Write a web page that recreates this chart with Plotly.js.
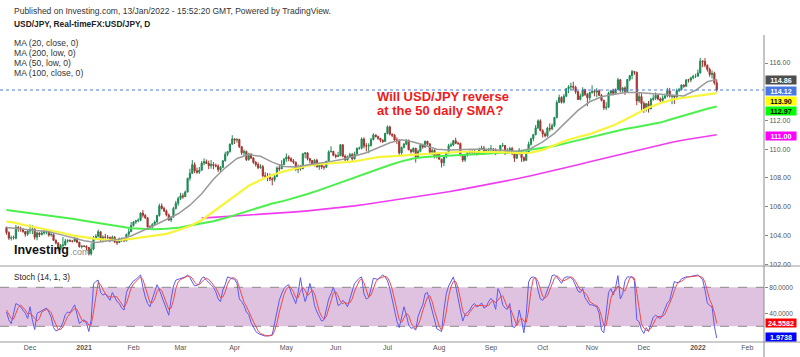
<!DOCTYPE html>
<html>
<head>
<meta charset="utf-8">
<script src="https://cdn.plot.ly/plotly-3.0.1.min.js"></script>
<style>html,body{margin:0;padding:0;background:#fff;}#chart{width:800px;height:357px;}</style>
</head>
<body>
<div id="chart"></div>
<script>
// ---------- DATA ----------
// Daily candles, trading days 2020-11-17 .. 2022-01-13
const open = [
 104.55,104.19,103.81,103.82,103.80,104.55,104.45,104.45,104.26,104.08,
 104.30,104.35,104.43,103.87,104.17,104.05,104.16,104.22,104.26,104.02,104.06,103.65,103.46,103.08,103.30,103.33,103.60,103.65,103.60,103.58,103.80,103.52,103.20,
 103.25,103.24,103.15,102.71,103.04,103.81,103.94,104.25,103.77,103.88,103.87,103.85,103.68,103.87,103.54,103.49,103.78,103.76,103.62,104.08,104.25,
 104.68,104.93,105.01,105.05,105.55,105.39,105.22,104.58,104.58,104.75,104.93,105.38,106.05,105.87,105.69,105.42,105.07,105.27,105.87,106.23,
 106.57,106.76,106.69,107.01,107.98,108.32,108.92,108.49,108.40,108.53,109.03,109.13,109.00,108.85,108.94,108.87,108.82,108.57,108.74,109.19,109.64,109.83,110.36,
 110.72,110.63,110.68,110.18,109.75,109.84,109.27,109.67,109.38,109.07,108.93,108.71,108.78,108.15,108.11,108.08,107.93,107.88,108.10,108.69,108.63,108.92,
 109.31,109.45,109.34,109.19,109.09,108.58,108.80,108.64,109.68,109.74,109.35,109.21,108.89,109.22,108.77,108.94,108.75,108.75,109.15,109.82,109.85,
 109.57,109.49,109.55,110.31,109.51,109.25,109.48,109.62,109.32,109.66,110.05,110.06,110.71,110.23,110.21,110.26,110.66,110.99,110.87,110.76,110.62,110.53,
 111.10,111.55,111.05,110.97,110.63,110.63,109.74,110.13,110.35,110.62,109.96,109.82,110.07,109.46,109.85,110.28,110.15,110.55,110.37,109.78,109.92,109.46,
 109.72,109.30,109.05,109.48,109.77,110.24,110.29,110.59,110.41,110.40,109.59,109.24,109.62,109.77,109.76,109.78,109.72,109.67,110.01,110.08,109.85,109.92,
 110.02,110.02,109.93,109.71,109.84,110.26,110.26,109.71,109.92,110.04,109.69,109.37,109.72,109.93,109.40,109.22,109.79,110.34,110.73,111.00,111.49,111.97,
 111.29,111.05,110.93,111.46,111.41,111.64,112.21,113.25,113.60,113.27,113.69,114.21,114.34,114.37,114.31,114.00,113.46,113.70,114.14,113.81,113.58,
 113.95,114.03,113.97,114.06,113.75,113.40,112.88,112.92,113.91,114.07,113.88,114.15,114.83,114.09,114.26,114.00,114.85,115.12,115.40,115.36,113.36,113.66,
 113.18,112.80,113.17,112.80,113.46,113.54,113.75,113.49,113.39,113.57,113.71,114.06,113.69,113.70,113.63,114.08,114.15,114.47,114.38,114.83,114.81,114.97,115.08,
 115.08,115.30,116.14,116.11,115.84,115.56,115.20,115.28,114.63
];
const high = [
 104.60,104.28,103.98,103.98,104.72,104.65,104.60,104.48,104.30,104.42,
 104.75,104.70,104.50,104.25,104.20,104.30,104.38,104.40,104.30,104.20,104.12,103.72,103.52,103.40,103.88,103.76,103.72,103.72,103.66,103.88,103.82,103.55,103.30,
 103.30,103.30,103.19,103.44,103.95,104.08,104.40,104.26,104.00,104.11,104.02,103.92,104.00,103.95,103.66,103.84,103.85,103.80,104.10,104.48,104.94,
 105.00,105.08,105.18,105.60,105.76,105.48,105.26,104.70,104.85,105.03,105.43,106.20,106.22,105.98,105.80,105.52,105.32,105.98,106.40,106.69,
 106.96,106.93,107.12,108.00,108.64,109.24,109.08,108.72,108.76,109.18,109.36,109.28,109.20,109.24,109.10,109.00,108.95,108.82,109.25,109.82,109.86,110.38,110.97,
 110.73,110.75,110.72,110.20,109.98,109.90,109.75,109.70,109.45,109.18,109.08,108.95,108.90,108.40,108.34,108.30,108.04,108.28,108.80,108.94,109.23,109.38,
 109.70,109.57,109.43,109.31,109.13,108.94,108.90,109.73,109.79,109.80,109.35,109.25,109.32,109.34,109.05,108.96,108.86,109.19,109.92,110.20,109.88,
 109.68,109.82,110.33,110.33,109.63,109.55,109.75,109.74,109.82,110.13,110.18,110.82,110.82,110.42,110.41,110.79,111.11,111.02,110.94,110.78,110.70,111.14,
 111.66,111.64,111.09,111.06,110.82,110.68,110.17,110.44,110.71,110.66,110.00,110.11,110.07,109.98,110.40,110.39,110.59,110.58,110.40,110.04,110.00,109.74,
 109.76,109.34,109.52,109.80,110.37,110.45,110.64,110.80,110.52,110.45,109.62,109.67,109.83,109.92,110.00,109.94,109.87,110.11,110.24,110.23,110.04,110.07,
 110.28,110.07,110.06,109.88,110.28,110.44,110.26,110.06,110.16,110.16,109.70,109.83,110.07,109.94,109.50,109.85,110.52,110.80,111.07,111.68,112.07,112.08,
 111.39,111.18,111.56,111.80,111.78,112.25,113.41,113.80,113.68,113.84,114.25,114.45,114.63,114.70,114.42,114.05,113.87,114.31,114.21,113.91,114.00,
 114.44,114.15,114.25,114.17,113.84,113.45,113.27,114.00,114.13,114.21,114.23,114.97,114.89,114.33,114.38,114.88,115.16,115.52,115.43,115.39,113.90,113.89,
 113.33,113.22,113.36,113.58,113.80,113.95,113.80,113.60,113.74,113.86,114.27,114.26,113.80,113.77,114.22,114.27,114.51,114.50,114.85,114.90,115.04,115.19,115.25,
 115.55,116.35,116.18,116.34,115.90,115.68,115.49,115.39,114.86
];
const low = [
 104.05,103.68,103.64,103.70,103.72,104.24,104.25,104.18,103.90,103.96,
 104.10,104.08,103.70,103.65,103.88,104.00,104.05,104.08,103.90,103.92,103.60,103.38,102.88,102.98,103.12,103.28,103.48,103.54,103.50,103.55,103.45,103.15,103.08,
 103.18,102.96,102.60,102.59,102.96,103.67,103.85,103.58,103.52,103.65,103.64,103.52,103.58,103.46,103.33,103.46,103.54,103.52,103.57,103.95,104.22,
 104.60,104.80,104.90,104.98,105.24,105.14,104.55,104.40,104.52,104.68,104.88,105.30,105.80,105.62,105.32,105.00,104.93,105.23,105.80,106.05,
 106.45,106.54,106.66,107.00,107.80,108.28,108.34,108.28,108.28,108.50,108.88,108.98,108.61,108.64,108.60,108.73,108.40,108.41,108.68,109.14,109.51,109.76,110.28,
 110.36,110.45,110.08,109.60,109.53,109.18,109.20,109.32,108.98,108.78,108.61,108.64,108.04,107.98,107.76,107.78,107.48,107.74,108.05,108.46,108.61,108.91,
 109.12,109.16,109.11,108.97,108.48,108.34,108.50,108.60,109.37,109.22,109.00,108.85,108.80,108.72,108.56,108.62,108.57,108.69,109.12,109.77,109.50,
 109.36,109.46,109.51,109.43,109.19,109.19,109.42,109.19,109.29,109.64,109.96,109.98,110.06,109.84,109.72,110.18,110.62,110.82,110.65,110.48,110.43,110.51,
 111.03,110.95,110.84,110.55,110.35,109.53,109.53,110.05,110.29,109.92,109.69,109.77,109.07,109.40,109.79,110.03,110.09,110.26,109.70,109.59,109.36,109.35,
 109.26,108.72,108.81,109.37,109.67,110.14,110.22,110.35,110.29,109.50,109.11,109.12,109.48,109.60,109.60,109.60,109.56,109.63,109.94,109.61,109.78,109.79,
 109.81,109.86,109.58,109.71,109.78,110.15,109.59,109.70,109.90,109.58,109.11,109.32,109.60,109.11,109.12,109.18,109.78,110.24,110.54,110.97,111.40,111.24,
 110.81,110.82,110.85,111.23,111.32,111.54,112.13,113.25,113.18,113.18,113.62,113.89,114.14,114.09,113.85,113.42,113.40,113.66,113.70,112.99,113.39,
 113.86,113.68,113.61,113.70,113.32,112.73,112.73,112.86,113.78,113.75,113.79,114.12,113.95,113.95,113.78,113.97,114.73,114.86,115.17,113.06,113.23,112.73,
 112.53,112.62,112.55,112.79,113.36,113.43,113.40,113.26,113.29,113.49,113.61,113.59,113.13,113.15,113.56,113.98,114.08,114.27,114.34,114.64,114.66,114.87,114.95,
 115.06,115.28,115.71,115.70,115.40,115.04,114.92,114.49,114.00
];
const close = [
 104.19,103.81,103.82,103.86,104.55,104.45,104.45,104.26,104.08,104.30,
 104.35,104.43,103.87,104.17,104.05,104.16,104.22,104.26,104.02,104.06,103.65,103.46,103.08,103.30,103.33,103.60,103.65,103.60,103.58,103.80,103.52,103.20,103.25,
 103.24,103.15,102.71,103.04,103.81,103.94,104.25,103.77,103.88,103.87,103.85,103.68,103.87,103.54,103.49,103.78,103.76,103.62,104.08,104.25,104.68,
 104.93,105.01,105.05,105.55,105.39,105.22,104.58,104.58,104.75,104.93,105.38,106.05,105.87,105.69,105.42,105.07,105.27,105.87,106.23,106.57,
 106.76,106.69,107.01,107.98,108.32,108.92,108.49,108.40,108.53,109.03,109.13,109.00,108.85,108.94,108.87,108.82,108.57,108.74,109.19,109.64,109.83,110.36,110.72,
 110.63,110.68,110.18,109.75,109.84,109.27,109.67,109.38,109.07,108.93,108.71,108.78,108.15,108.11,108.08,107.93,107.88,108.10,108.69,108.63,108.92,109.31,
 109.45,109.34,109.19,109.09,108.58,108.80,108.64,109.68,109.74,109.35,109.21,108.89,109.22,108.77,108.94,108.75,108.75,109.15,109.82,109.85,109.57,
 109.49,109.55,110.31,109.51,109.25,109.48,109.62,109.32,109.66,110.05,110.06,110.71,110.23,110.21,110.26,110.66,110.99,110.87,110.76,110.62,110.53,111.10,
 111.55,111.05,110.97,110.63,110.63,109.74,110.13,110.35,110.62,109.96,109.82,110.07,109.46,109.85,110.28,110.15,110.55,110.37,109.78,109.92,109.46,109.72,
 109.30,109.05,109.48,109.77,110.24,110.29,110.59,110.41,110.40,109.59,109.24,109.62,109.77,109.76,109.78,109.72,109.67,110.01,110.08,109.85,109.92,110.02,
 110.02,109.93,109.71,109.84,110.26,110.26,109.71,109.92,110.04,109.69,109.37,109.72,109.93,109.40,109.22,109.79,110.34,110.73,111.00,111.49,111.97,111.29,
 111.05,110.93,111.46,111.41,111.64,112.21,113.25,113.60,113.27,113.69,114.21,114.34,114.37,114.31,114.00,113.46,113.70,114.14,113.81,113.58,113.95,
 114.03,113.97,114.06,113.75,113.40,112.88,112.92,113.91,114.07,113.88,114.15,114.83,114.09,114.26,114.00,114.85,115.12,115.40,115.36,113.36,113.66,113.18,
 112.80,113.17,112.80,113.46,113.54,113.75,113.49,113.39,113.57,113.71,114.06,113.69,113.70,113.63,114.08,114.15,114.47,114.38,114.83,114.81,114.97,115.08,115.08,
 115.30,116.14,116.11,115.84,115.56,115.20,115.28,114.63,114.12
];

// Moving averages, read weekly (2020-11-17, every Friday 2020-11-20..2022-01-07, 2022-01-13)
const ma20close = [104.55,
 104.50,104.45,104.35,104.25,104.05,103.85,103.62,103.50,103.60,103.72,
 103.95,104.30,104.70,105.10,105.50,106.10,106.90,107.90,108.70,109.35,
 109.62,109.50,109.10,108.80,108.75,108.90,109.00,109.15,109.30,109.55,
 109.75,110.10,110.45,110.65,110.50,110.25,110.00,109.95,110.00,110.00,
 110.00,109.95,109.92,109.85,110.05,110.50,111.10,111.90,112.70,113.30,
 113.65,113.80,113.95,113.95,113.90,113.82,113.75,113.70,114.10,114.70,
 114.86];
const ma50low = [104.95,
 104.90,104.70,104.55,104.40,104.20,104.00,103.85,103.75,103.68,103.68,
 103.75,103.85,103.95,104.10,104.35,104.65,105.05,105.65,106.25,106.85,
 107.45,107.85,108.20,108.45,108.65,108.85,108.95,109.00,109.05,109.15,
 109.30,109.45,109.50,109.55,109.62,109.70,109.75,109.80,109.82,109.82,
 109.82,109.82,109.78,109.72,109.75,109.95,110.30,110.60,110.85,111.05,
 111.35,111.65,112.05,112.45,112.90,113.20,113.45,113.58,113.70,113.82,
 113.90];
const ma100close = [105.76,
 105.70,105.60,105.50,105.40,105.28,105.15,105.02,104.90,104.75,104.62,
 104.50,104.45,104.42,104.45,104.52,104.68,104.82,104.98,105.20,105.45,
 105.72,106.00,106.22,106.40,106.62,106.88,107.15,107.45,107.72,108.00,
 108.32,108.62,108.90,109.15,109.35,109.46,109.52,109.56,109.60,109.63,
 109.66,109.70,109.76,109.83,109.95,110.08,110.22,110.42,110.62,110.80,
 110.97,111.18,111.40,111.55,111.72,111.85,112.10,112.35,112.60,112.82,
 112.97];
const ma200low = [null,
 null,null,null,null,null,null,null,null,null,null,
 null,null,null,null,null,null,105.20,105.25,105.30,105.35,
 105.40,105.45,105.50,105.56,105.63,105.70,105.78,105.86,105.95,106.05,
 106.16,106.28,106.40,106.52,106.65,106.78,106.90,107.04,107.18,107.33,
 107.48,107.64,107.80,107.97,108.15,108.33,108.52,108.72,108.92,109.12,
 109.32,109.52,109.72,109.92,110.12,110.30,110.48,110.64,110.78,110.90,
 111.00];

// Stochastic (14,1,3): %K (blue) and %D (red), one value per trading day
const stochK = [
 42,30,24,40,55,53,50,45,40,32, 50,30,15,40,42,44,46,48,42,34,
 18,13,14,18,26,38,42,41,47,53, 38,24,28,30,25,12,30,85,89,91,
 72,68,70,64,60,72,66,58,55,48, 45,72,80,86,90,92,96,99,80,65,
 55,50,62,74,84,76,66,55,45,37, 62,82,91,92,94,95,96,99,95,88,
 82,83,86,94,96,91,88,84,80,73, 62,58,76,84,96,95,94,92,86,62,
 58,52,42,38,26,18,12,9,7,6, 5,5,6,7,25,42,60,70,78,82,
 84,72,64,55,72,95,72,58,70,86, 72,52,42,36,28,30,48,62,70,80,
 68,52,54,60,56,50,62,74,86,90, 94,96,70,62,64,78,94,93,92,96,
 99,96,90,78,62,46,28,18,32,50, 38,22,17,18,14,35,45,53,70,72,
 58,45,30,16,14,12,45,70,82,90, 96,82,60,45,28,38,42,45,52,55,
 50,52,56,48,50,58,63,58,46,78, 70,53,48,46,55,20,18,24,45,30,
 10,38,88,95,96,94,76,62,60,66, 76,85,98,99,96,90,86,94,96,96,
 95,91,82,74,72,78,64,58,53,53, 52,50,40,14,10,40,72,78,68,80,
 98,62,70,90,96,96,96,90,30,27, 15,9,18,12,22,34,37,35,32,38,
 48,56,60,76,89,87,88,93,95,96, 96,97,97,98,99,95,92,76,56,52,
 50,20,1.9738
];
const stochD = [
 45,38,32,31,40,49,53,49,45,39, 40,37,32,28,32,42,44,46,45,41,
 31,22,15,15,19,27,35,40,43,47, 46,38,30,27,28,22,22,42,68,88,
 84,77,70,67,65,65,66,65,60,54, 49,55,66,79,85,89,93,96,92,81,
 67,57,56,62,73,78,75,66,55,46, 48,60,78,88,92,94,95,97,97,94,
 88,84,84,88,92,94,92,88,84,79, 72,64,65,73,85,92,95,94,91,80,
 69,57,51,44,35,27,19,13,9,7, 6,5,5,6,13,25,42,57,69,77,
 81,79,73,64,64,74,80,75,67,71, 76,70,55,43,35,31,35,47,60,71,
 73,67,58,55,57,55,56,62,74,83, 90,93,87,76,65,68,79,88,93,94,
 96,97,95,88,77,62,45,30,26,33, 40,37,26,19,16,22,31,44,56,65,
 67,58,44,30,20,14,24,42,66,81, 89,89,79,62,44,37,36,42,46,51,
 52,52,53,52,51,52,57,60,56,61, 65,67,57,49,50,40,31,21,29,33,
 28,26,45,74,93,95,89,77,66,63, 67,76,86,94,98,95,91,90,92,95,
 96,94,89,82,76,75,71,67,58,55, 53,52,47,35,21,21,41,63,73,75,
 82,80,77,74,85,94,96,94,72,49, 24,17,14,13,17,23,31,35,35,35,
 39,47,55,64,75,84,88,89,92,95, 96,96,97,97,98,97,95,88,75,61,
 53,41,24.5582
];

// Axis ticks (114.00 and 20 are hidden behind the value tags in the reference)
const monthTickDates = ['2020-12-01','2021-01-01','2021-02-01','2021-03-01','2021-04-01','2021-05-03','2021-06-01','2021-07-01','2021-08-02','2021-09-01','2021-10-01','2021-11-01','2021-12-01','2022-01-03','2022-02-01'];
const monthTickLabels = ['Dec','<b>2021</b>','Feb','Mar','Apr','May','Jun','Jul','Aug','Sep','Oct','Nov','Dec','<b>2022</b>','Feb'];
const priceTicks = [102,104,106,108,110,112,116];
const stochTicks = [40,80];

// Last values shown in the right-hand tags
const lastMA20 = '114.86', lastPrice = '114.12', lastMA50 = '113.90', lastMA100 = '112.97', lastMA200 = '111.00';
const lastD = '24.5582', lastK = '1.9738';

// ---------- helpers ----------
function tradingDays(start, end){
  const out=[]; let t=Date.parse(start+'T00:00:00Z'); const e=Date.parse(end+'T00:00:00Z');
  while(t<=e){const w=new Date(t).getUTCDay(); if(w!==0&&w!==6) out.push(new Date(t).toISOString().slice(0,10)); t+=86400000;}
  return out;
}
const dates = tradingDays('2020-11-17','2022-01-13');
const maDates = ['2020-11-17'];
for(let t=Date.parse('2020-11-20T00:00:00Z'); t<=Date.parse('2022-01-07T00:00:00Z'); t+=7*86400000) maDates.push(new Date(t).toISOString().slice(0,10));
maDates.push('2022-01-13');

const FONT = 'Liberation Sans, Arial, Helvetica, sans-serif';

const traces = [
  {type:'candlestick', x:dates, open:open, high:high, low:low, close:close, xaxis:'x', yaxis:'y',
   increasing:{line:{color:'#1d8a55',width:1}, fillcolor:'#1d8a55'},
   decreasing:{line:{color:'#a5342f',width:1}, fillcolor:'#a5342f'},
   whiskerwidth:0, hoverinfo:'skip'},
  {type:'scatter', mode:'lines', x:maDates, y:ma200low, line:{color:'#f03cf0',width:1.6}, connectgaps:false, hoverinfo:'skip'},
  {type:'scatter', mode:'lines', x:maDates, y:ma100close, line:{color:'#4cf04c',width:2}, hoverinfo:'skip'},
  {type:'scatter', mode:'lines', x:maDates, y:ma50low, line:{color:'#f7f53a',width:2.2}, hoverinfo:'skip'},
  {type:'scatter', mode:'lines', x:maDates, y:ma20close, line:{color:'#9a9a9a',width:1.5}, hoverinfo:'skip'},
  {type:'scatter', mode:'lines', x:dates, y:stochK, xaxis:'x', yaxis:'y2', line:{color:'#5a5af5',width:1}, hoverinfo:'skip'},
  {type:'scatter', mode:'lines', x:dates, y:stochD, xaxis:'x', yaxis:'y2', line:{color:'#f04a4a',width:1}, hoverinfo:'skip'}
];

// geometry: plot area x 0..764, y 35..342 (px)
const PT=35, PB=342, PH=PB-PT, PW=764;
const py = v => (PB - v)/PH;      // pixel row -> paper y
const px = v => v/PW;             // pixel col -> paper x
const stochTop = py(266);

function txt(text, x, y, size, color, extra){
  return Object.assign({text:text, xref:'paper', yref:'paper', x:px(x), y:py(y), xanchor:'left', yanchor:'middle',
    showarrow:false, font:{family:FONT, size:size, color:color}}, extra||{});
}
function tag(text, y, bg, fg){
  return {text:'<b>'+text+'</b>', xref:'paper', yref:'paper', x:px(765), y:py(y), xanchor:'left', yanchor:'middle',
    showarrow:false, bgcolor:bg, width:30, height:8, borderpad:0, align:'center',
    font:{family:FONT, size:7.2, color:fg}};
}

const layout = {
  width:800, height:357,
  margin:{l:0, r:36, t:PT, b:357-PB, pad:0},
  paper_bgcolor:'#ffffff', plot_bgcolor:'#ffffff', showlegend:false,
  font:{family:FONT, color:'#555'},
  xaxis:{type:'date', anchor:'y2', range:['2020-11-12 05:45','2022-02-10 02:24'],
    rangebreaks:[{bounds:['sat','mon']}], rangeslider:{visible:false},
    tickmode:'array', tickvals:monthTickDates, ticktext:monthTickLabels,
    showgrid:false, zeroline:false, showline:false, ticks:'',
    tickfont:{family:FONT, size:7, color:'#555'}, fixedrange:true},
  yaxis:{domain:[stochTop,1], range:[101.864,117.95], side:'right', anchor:'x',
    tickmode:'array', tickvals:priceTicks, tickformat:'.2f',
    showgrid:false, zeroline:false, showline:false, ticks:'outside', ticklen:3, tickcolor:'#888',
    tickfont:{family:FONT, size:7, color:'#555'}, fixedrange:true},
  yaxis2:{domain:[0,stochTop], range:[-4.15,112.77], side:'right', anchor:'x',
    tickmode:'array', tickvals:stochTicks, tickformat:'.4f',
    showgrid:false, zeroline:false, showline:false, ticks:'outside', ticklen:3, tickcolor:'#888',
    tickfont:{family:FONT, size:6.5, color:'#555'}, fixedrange:true},
  shapes:[
    {type:'rect', xref:'paper', yref:'y2', x0:0, x1:1, y0:20, y1:80, fillcolor:'#dfc2df', line:{width:0}, layer:'below'},
    {type:'line', xref:'paper', yref:'y2', x0:0, x1:1, y0:80, y1:80, line:{color:'#8a8a8a', width:1, dash:'dash'}, layer:'below'},
    {type:'line', xref:'paper', yref:'y2', x0:0, x1:1, y0:20, y1:20, line:{color:'#8a8a8a', width:1, dash:'dash'}, layer:'below'},
    {type:'line', xref:'paper', yref:'y', x0:0, x1:1, y0:114.12, y1:114.12, line:{color:'#4a78e0', width:1, dash:'dot'}},
    {type:'line', xref:'paper', yref:'paper', x0:0, x1:800/PW, y0:stochTop, y1:stochTop, line:{color:'#9a9a9a', width:1}},
    {type:'line', xref:'paper', yref:'paper', x0:0, x1:800/PW, y0:0, y1:0, line:{color:'#9a9a9a', width:1}},
    {type:'line', xref:'paper', yref:'paper', x0:1, x1:1, y0:py(357), y1:1, line:{color:'#8a8a8a', width:1}}
  ],
  annotations:[
    txt('Published on Investing.com, 13/Jan/2022 - 15:52:20 GMT, Powered by TradingView.', 12, 11, 8.5, '#333'),
    txt('<b>USD/JPY, Real-timeFX:USD/JPY, D</b>', 12, 24.5, 8.4, '#222'),
    txt('MA (20, close, 0)', 12, 42.7, 8.6, '#333'),
    txt('MA (200, low, 0)', 12, 52.7, 8.6, '#333'),
    txt('MA (50, low, 0)', 12, 62.7, 8.6, '#333'),
    txt('MA (100, close, 0)', 12, 72.7, 8.6, '#333'),
    txt('<b>Will USD/JPY reverse</b>', 375, 96, 13, '#ee1c1c'),
    txt('<b>at the 50 daily SMA?</b>', 375, 110, 13, '#ee1c1c'),
    txt('<b>Investing</b>', 12, 250, 12.5, '#111'),
    txt('.com', 68, 252, 9, '#8a8a8a'),
    txt('Stoch (14, 1, 3)', 12, 277, 8.2, '#222'),
    tag(lastMA20, 80.5, '#4d4d4d', '#ffffff'),
    tag(lastPrice, 90.5, '#4a78e0', '#ffffff'),
    tag(lastMA50, 100.5, '#ffff00', '#000000'),
    tag(lastMA100, 110.5, '#00ff00', '#000000'),
    tag(lastMA200, 135.7, '#ff00ff', '#ffffff'),
    tag(lastD, 322.7, '#ff0000', '#ffffff'),
    tag(lastK, 337.3, '#0000ff', '#ffffff')
  ]
};

Plotly.newPlot('chart', traces, layout, {displayModeBar:false, staticPlot:true});
</script>
</body>
</html>
